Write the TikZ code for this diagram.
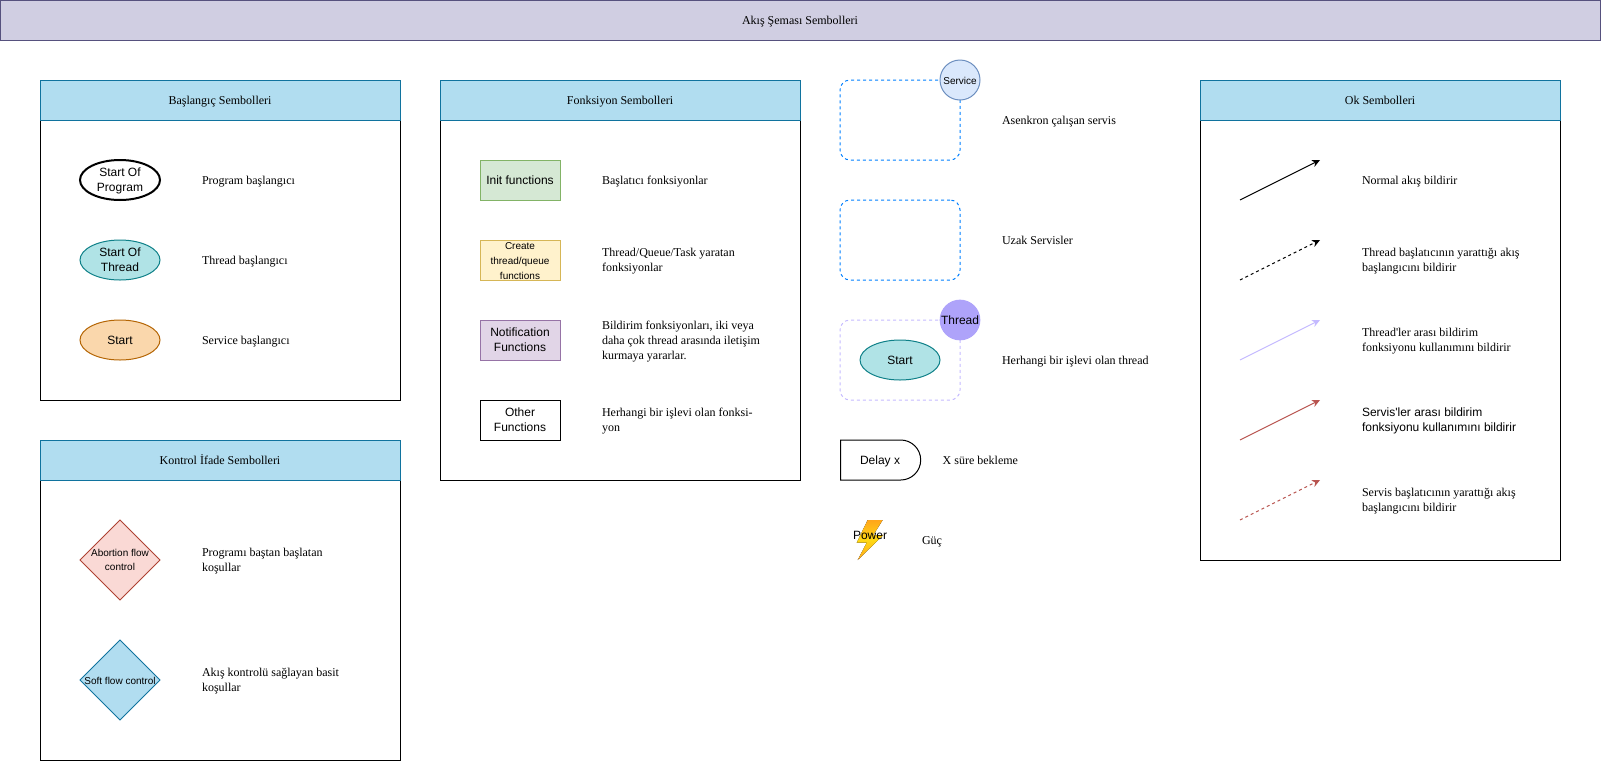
\documentclass[tikz,border=0pt]{standalone}
\usepackage{fontspec}
\usepackage{xcolor}
\setmainfont{Liberation Serif}
\setsansfont{Liberation Sans}
\usetikzlibrary{arrows.meta, positioning, shapes.geometric, shapes.misc}

\definecolor{titlefill}{HTML}{D0CEE2}
\definecolor{titleline}{HTML}{56517E}
\definecolor{headfill}{HTML}{B1DDF0}
\definecolor{headline}{HTML}{10739E}
\definecolor{tealfill}{HTML}{B0E3E6}
\definecolor{tealline}{HTML}{0E8088}
\definecolor{orangefill}{HTML}{FAD7AC}
\definecolor{orangeline}{HTML}{B46504}
\definecolor{greenfill}{HTML}{D5E8D4}
\definecolor{greenline}{HTML}{82B366}
\definecolor{yellowfill}{HTML}{FFF2CC}
\definecolor{yellowline}{HTML}{D6B656}
\definecolor{purplefill}{HTML}{E1D5E7}
\definecolor{purpleline}{HTML}{9673A6}
\definecolor{redfill}{HTML}{FAD9D5}
\definecolor{redline}{HTML}{AE4132}
\definecolor{servicefill}{HTML}{DAE8FC}
\definecolor{serviceline}{HTML}{6C8EBF}
\definecolor{remoteline}{HTML}{007FFF}
\definecolor{threadfill}{HTML}{AEA3FA}
\definecolor{threadline}{HTML}{C4BAFF}
\definecolor{arrowred}{HTML}{B85450}
\definecolor{boltorange}{HTML}{FFA61A}
\definecolor{boltyellow}{HTML}{FFD814}

\newcommand{\linestrut}{\rule[-2.5pt]{0pt}{11pt}}

\tikzset{
  every node/.style={font=\fontsize{9}{11.25}\selectfont,outer sep=0pt},
  tline/.style={execute at begin node=\linestrut,execute at end node=\linestrut},
  multi/.style={execute at begin node=\rule{0pt}{#1}},
  multi/.default=19.75pt,
  lower/.style={execute at begin node=\rule{0pt}{7pt}},
  panel/.style={draw,minimum width=270pt,anchor=north west},
  header/.style={tline,draw=headline,fill=headfill,minimum width=270pt,minimum height=30pt,anchor=north west},
  symb/.style={align=center,minimum width=60pt,minimum height=30pt,inner sep=0pt},
  sans/.style={tline,font=\fontsize{9}{11.25}\selectfont\sffamily},
  small/.style={font=\fontsize{7.5}{11}\selectfont\sffamily},
  oval/.style={symb,sans,ellipse,inner sep=-3pt},
  rhomb/.style={symb,small,diamond,minimum height=60pt,inner sep=-8pt},
  disc/.style={symb,circle,minimum width=30pt,minimum height=30pt},
  area/.style={minimum width=90pt,minimum height=60pt,rounded corners=7.5pt,dash pattern=on 2.25pt off 2.25pt,draw},
  desc/.style={tline,align=left,inner sep=1.5pt},
  flow/.style={line width=.75pt,-{Stealth[length=6pt,width=5.5pt]}},
  dashflow/.style={flow,dash pattern=on 2.25pt off 2.25pt}
}

\begin{document}
\begin{tikzpicture}[x=.75pt,y=-.75pt,node distance=30pt,line width=.75pt]
\useasboundingbox (0,0) rectangle (1602,761);

\node[tline,draw=titleline,fill=titlefill,minimum width=1200pt,minimum height=30pt,anchor=north west] (Title) at (0,0) {Akış Şeması Sembolleri};

\node[panel,minimum height=240pt] (P1) at (40,80) {};
\node[header] (H1) at (40,80) {Başlangıç Sembolleri};
\node[oval,multi,draw,line width=1.5pt] (S1) at (120,180) {Start Of\\Program};
\node[oval,multi,draw=tealline,fill=tealfill,below=of S1] (S2) {Start Of\\Thread};
\node[oval,draw=orangeline,fill=orangefill,below=of S2] (S3) {Start};
\node[desc,right=of S1] (D1) {Program başlangıcı};
\node[desc,right=of S2] (D2) {Thread başlangıcı};
\node[desc,right=of S3] (D3) {Service başlangıcı};

\node[panel,minimum height=240pt] (P2) at (40,440) {};
\node[header] (H2) at (40,440) {Kontrol İfade Sembolleri};
\node[rhomb,draw=redline,fill=redfill] (C1) at (120,560) {Abortion flow\\control};
\node[rhomb,lower,draw=headline,fill=headfill,below=of C1] (C2) {Soft flow control};
\node[desc,multi,right=of C1] (D4) {Programı baştan başlatan\\koşullar};
\node[desc,multi,right=of C2] (D5) {Akış kontrolü sağlayan basit\\koşullar};

\node[panel,minimum height=300pt] (P3) at (440,80) {};
\node[header] (H3) at (440,80) {Fonksiyon Sembolleri};
\node[symb,sans,draw=greenline,fill=greenfill] (F1) at (520,180) {Init functions};
\node[symb,small,multi=29pt,draw=yellowline,fill=yellowfill,below=of F1] (F2) {Create\\thread/queue\\functions};
\node[symb,sans,multi,draw=purpleline,fill=purplefill,below=of F2] (F3) {Notification\\Functions};
\node[symb,sans,multi,draw,below=of F3] (F4) {Other\\Functions};
\node[desc,right=of F1] (D6) {Başlatıcı fonksiyonlar};
\node[desc,multi,right=of F2] (D7) {Thread/Queue/Task yaratan\\fonksiyonlar};
\node[desc,multi=31pt,right=of F3] (D8) {Bildirim fonksiyonları, iki veya\\daha çok thread arasında iletişim\\kurmaya yararlar.};
\node[desc,multi,right=of F4] (D9) {Herhangi bir işlevi olan fonksi-\\yon};

\node[area,draw=remoteline] (A1) at (900,120) {};
\node[disc,small,lower,draw=serviceline,fill=servicefill] (A1c) at (960,80) {Service};
\node[area,draw=remoteline,below=of A1] (A2) {};
\node[area,draw=threadline,below=of A2] (A3) {};
\node[disc,sans,fill=threadfill] (A3c) at (960,320) {Thread};
\node[oval,draw=tealline,fill=tealfill] (A3s) at (900,360) {Start};
\node[desc,right=of A1] (D10) {Asenkron çalışan servis};
\node[desc,right=of A2] (D11) {Uzak Servisler};
\node[desc,right=of A3] (D12) {Herhangi bir işlevi olan thread};

\node[symb,sans,draw,rounded rectangle,rounded rectangle west arc=none] (W) at (880,460) {Delay x};
\node[desc,right=15pt of W] (D13) {X süre bekleme};

\fill[top color=boltorange,bottom color=boltorange,middle color=boltyellow] (882.7,520) -- (867.7,520) -- (856.7,542.7) -- (866.7,542.7) -- (857.7,560) -- (883.3,535) -- (873.3,535) -- cycle;
\node[symb,sans,minimum width=0pt,minimum height=0pt] (Pw) at (870,535) {Power};
\node[desc,anchor=west] (D14) at (920,540) {Güç};

\node[panel,minimum height=360pt] (P4) at (1200,80) {};
\node[header] (H4) at (1200,80) {Ok Sembolleri};
\coordinate (O1) at (1240,200);
\coordinate (E1) at (1320,160);
\coordinate (O2) at (1240,280);
\coordinate (E2) at (1320,240);
\coordinate (O3) at (1240,360);
\coordinate (E3) at (1320,320);
\coordinate (O4) at (1240,440);
\coordinate (E4) at (1320,400);
\coordinate (O5) at (1240,520);
\coordinate (E5) at (1320,480);
\draw[flow] (O1) -- (E1);
\draw[dashflow] (O2) -- (E2);
\draw[flow,threadline] (O3) -- (E3);
\draw[flow,arrowred] (O4) -- (E4);
\draw[dashflow,arrowred] (O5) -- (E5);
\node[desc,anchor=west] (D15) at (1360,180) {Normal akış bildirir};
\node[desc,multi,anchor=west] (D16) at (1360,260) {Thread başlatıcının yarattığı akış\\başlangıcını bildirir};
\node[desc,multi,anchor=west] (D17) at (1360,340) {Thread\textquotesingle ler arası bildirim\\fonksiyonu kullanımını bildirir};
\node[desc,sans,multi,anchor=west] (D18) at (1360,420) {Servis\textquotesingle ler arası bildirim\\fonksiyonu kullanımını bildirir};
\node[desc,multi,anchor=west] (D19) at (1360,500) {Servis başlatıcının yarattığı akış\\başlangıcını bildirir};
\end{tikzpicture}
\end{document}
